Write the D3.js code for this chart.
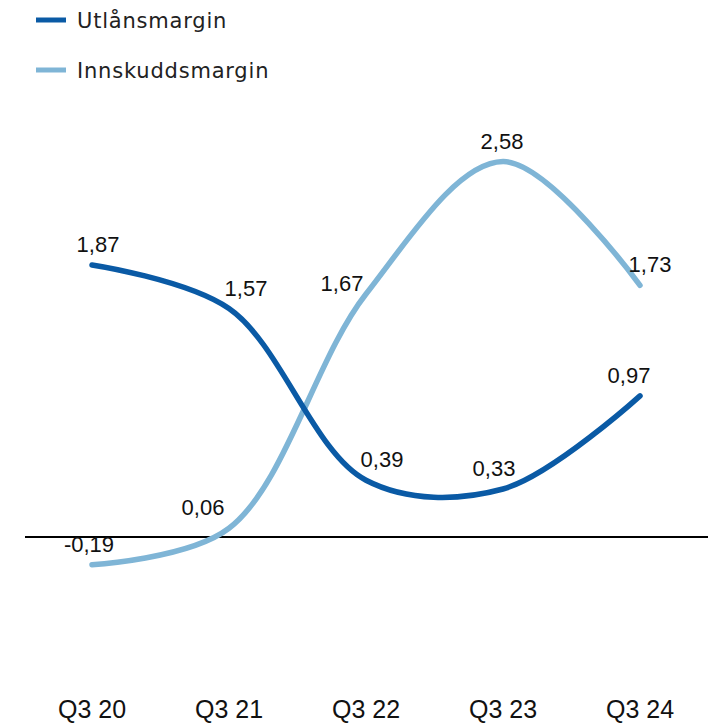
<!DOCTYPE html>
<html>
<head>
<meta charset="utf-8">
<script src="https://cdn.jsdelivr.net/npm/d3@7"></script>
<style>
  body { margin: 0; background: #fff; }
  svg { display: block; }
</style>
</head>
<body>
<script>
// chart data
const quarters = ['Q3 20', 'Q3 21', 'Q3 22', 'Q3 23', 'Q3 24'];
const utlan = [1.87, 1.57, 0.39, 0.33, 0.97];
const innskudd = [-0.19, 0.06, 1.67, 2.58, 1.73];
const seriesNames = ['Utlånsmargin', 'Innskuddsmargin'];

// label nudges (px), one per point
const utlanShift = [6, 17, 16, -9, -11];
const innskuddShift = [-3, -26, -24, -1, 10];

const width = 715;
const height = 727;
const colors = ['#0a5aa5', '#7fb5d6'];

const svg = d3.select('body').append('svg')
  .attr('width', width)
  .attr('height', height);

const x = d3.scalePoint()
  .domain(quarters)
  .range([92, 640]);

const y = d3.scaleLinear()
  .domain([0, 1])
  .range([537, 391.5]);

// zero line
svg.append('line')
  .attr('x1', 25)
  .attr('x2', 708)
  .attr('y1', y(0))
  .attr('y2', y(0))
  .attr('stroke', '#000')
  .attr('stroke-width', 2);

const line = d3.line()
  .x((d, i) => x(quarters[i]))
  .y(d => y(d))
  .curve(d3.curveCatmullRom);

const series = [
  { name: seriesNames[0], values: utlan, shift: utlanShift, color: colors[0] },
  { name: seriesNames[1], values: innskudd, shift: innskuddShift, color: colors[1] }
];

// draw light line first so dark one sits on top
series.slice().reverse().forEach(s => {
  svg.append('path')
    .datum(s.values)
    .attr('fill', 'none')
    .attr('stroke', s.color)
    .attr('stroke-width', 5.5)
    .attr('stroke-linecap', 'round')
    .attr('d', line);
});

series.forEach(s => {
  svg.selectAll(null)
    .data(s.values)
    .enter().append('text')
    .attr('x', (d, i) => x(quarters[i]) + s.shift[i])
    .attr('y', (d, i) => y(d) - (i === 2 && s.values === innskudd ? 3 : 13))
    .attr('text-anchor', 'middle')
    .attr('font-family', 'Liberation Sans, Arial, sans-serif')
    .attr('font-size', 22)
    .attr('fill', '#111')
    .text(d => d.toFixed(2).replace('.', ','));
});

// x labels
svg.selectAll('.xlab')
  .data(quarters)
  .enter().append('text')
  .attr('class', 'xlab')
  .attr('x', d => x(d))
  .attr('y', 718)
  .attr('text-anchor', 'middle')
  .attr('font-family', 'Liberation Sans, Arial, sans-serif')
  .attr('font-size', 25)
  .attr('fill', '#111')
  .text(d => d);

// legend
const legend = svg.selectAll('.legend')
  .data(series)
  .enter().append('g')
  .attr('class', 'legend')
  .attr('transform', (d, i) => `translate(36,${20 + i * 50})`);

legend.append('line')
  .attr('x1', 0)
  .attr('x2', 30)
  .attr('stroke', d => d.color)
  .attr('stroke-width', 5);

legend.append('text')
  .attr('x', 41)
  .attr('y', 8)
  .attr('font-family', 'DejaVu Sans, sans-serif')
  .attr('font-size', 21)
  .attr('letter-spacing', 0.8)
  .attr('fill', '#222')
  .text(d => d.name);
</script>
</body>
</html>
